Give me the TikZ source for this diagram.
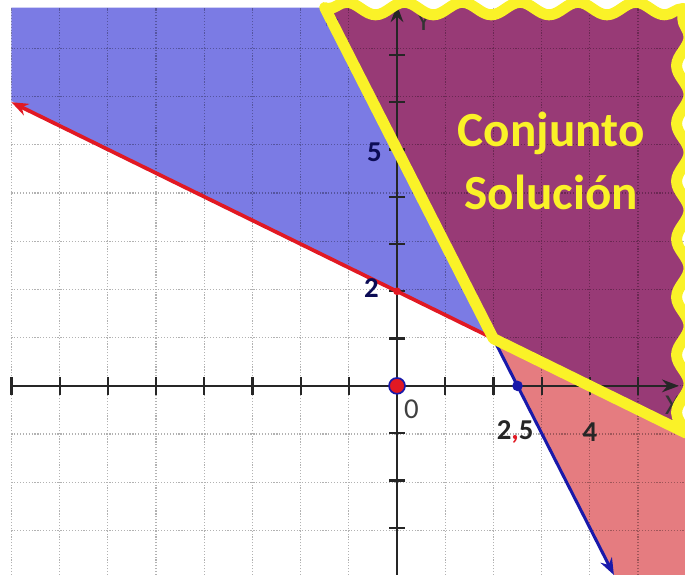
\documentclass[tikz,border=0pt]{standalone}
\usepackage{fontspec}
\setmainfont{Carlito}
\usetikzlibrary{arrows.meta,decorations.pathmorphing}
\definecolor{zonaazul}{RGB}{123,123,228}
\definecolor{zonamorada}{RGB}{152,58,118}
\definecolor{zonarosa}{RGB}{229,124,128}
\definecolor{amarillo}{RGB}{250,242,40}
\definecolor{rojo}{RGB}{225,25,35}
\definecolor{azul}{RGB}{25,25,170}
\newcommand{\contorno}{(B1) -- (P) -- (R2) -- (5.93,-0.95)
  decorate[decoration={snake,amplitude=1.3mm,segment length=12mm}] {-- (5.93,7.98)}
  decorate[decoration={snake,amplitude=1.3mm,segment length=12mm}] {-- (-1.45,7.98)} -- cycle}

\begin{document}
\begin{tikzpicture}[x=1cm,y=0.981cm,>={Stealth[length=3.5mm]},
  lbl/.style={font=\fontsize{17}{20}\selectfont\bfseries,text=black!85},
  punto/.style={circle,inner sep=0pt}]
\useasboundingbox (-8.237,-3.996) rectangle (5.975,8.161);
% rectas x+2y=4 y 2x+y=5
\coordinate (R1) at (-8,6);
\coordinate (R2) at (6,-1);
\coordinate (B1) at (-1.5,8);
\coordinate (B2) at (4.5,-4);
\coordinate (P) at (2,1);
% zonas
\fill[zonaazul] (-8,8) -- (B1) -- (P) -- (R1) -- cycle;
\fill[zonarosa] (P) -- (R2) -- (6,-4) -- (B2) -- cycle;
\fill[zonamorada] \contorno;
\draw[black,opacity=0.3,densely dotted,line width=0.7pt] (-8,-4) grid (6,8);
% ejes
\draw[black!85,line width=1.3pt,->] (-8,0) -- (5.85,0);
\draw[black!85,line width=1.3pt,->] (0,-4) -- (0,8.05);
\foreach \i in {-8,...,-1,1,2,...,5}
  \draw[black!85,line width=1.3pt] (\i,-0.19) -- (\i,0.19);
\foreach \j in {-3,...,-1,1,2,...,7}
  \draw[black!85,line width=1.3pt] (-0.16,\j) -- (0.16,\j);
\node[font=\fontsize{17}{20}\selectfont,text=black!80] (ejex) at (5.72,-0.42) {X};
\node[font=\fontsize{17}{20}\selectfont,text=black!80] (ejey) at (0.55,7.72) {Y};
% rectas
\draw[white,line width=1.2pt,yshift=1.8pt] (R1) -- (P);
\draw[rojo,line width=2.2pt,<-] (R1) -- (R2);
\draw[azul,line width=1.8pt,<->] (B1) -- (B2);
% borde del conjunto solucion
\draw[amarillo,line width=6.5pt,line join=round] \contorno;
% puntos
\node[punto,fill=rojo,draw=azul,line width=1pt,minimum size=3.3mm] (O) at (0,0) {};
\node[punto,fill=azul,minimum size=2.2mm] (C) at (2.5,0) {};
\node[punto,fill=rojo,minimum size=1.6mm] (D) at (0,2) {};
% etiquetas
\node[font=\fontsize{17}{20}\selectfont,text=black!75] (l0) at (0.3,-0.5) {0};
\node[lbl] (l25) at (2.45,-0.97) {2\textcolor{rojo}{,}5};
\node[lbl] (l4) at (4.0,-0.97) {4};
\node[lbl,text=azul!50!black] (l2) at (-0.53,2.07) {2};
\node[lbl,text=azul!50!black] (l5) at (-0.47,4.95) {5};
\node[font=\fontsize{29}{37}\selectfont\bfseries,text=amarillo,align=center] (sol) at (3.2,4.75) {Conjunto\\Solución};
\end{tikzpicture}
\end{document}
